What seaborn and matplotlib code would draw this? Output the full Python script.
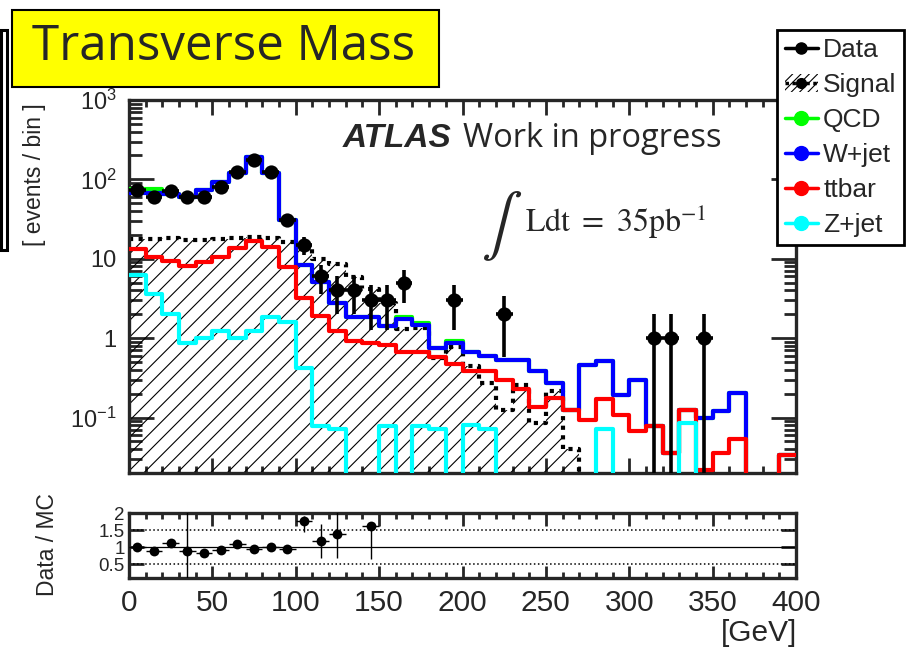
import numpy as np
import pandas as pd
import matplotlib
matplotlib.use("Agg")
import matplotlib.pyplot as plt
import seaborn as sns
from matplotlib.patches import Rectangle, Patch
from matplotlib.lines import Line2D
from matplotlib.ticker import MultipleLocator, FixedLocator, FuncFormatter, LogLocator, NullFormatter

# ---------------- data ----------------
bin_edges = list(range(0, 410, 10))          # GeV, 10 GeV bins
data_counts = [73, 60, 71, 60, 60, 81, 123, 175, 125, 31,
               15, 6, 4, 4, 3, 3, 5, 0, 0, 3,
               0, 0, 2, 0, 0, 0, 0, 0, 0, 0,
               0, 1, 1, 0, 1, 0, 0, 0, 0, 0]
signal = [17.9, 17.9, 18.5, 17.0, 17.3, 17.6, 18.5, 18.8, 18.5, 16.4,
          14.8, 9.8, 8.5, 5.9, 4.2, 2.8, 1.3, 1.36, 0.57, 0.78,
          0.45, 0.275, 0.126, 0.26, 0.086, 0.215, 0.04, 0, 0, 0,
          0, 0, 0, 0, 0, 0, 0, 0, 0, 0]
qcd_stack = [75, 75, 66, 60, 73, 94, 119, 194, 119, 31,
             8.4, 5.1, 2.8, 1.83, 1.83, 1.41, 1.82, 1.55, 0.75, 0.93,
             0.66, 0.60, 0.53, 0.53, 0.385, 0.27, 0.123, 0.46, 0.52, 0.19,
             0.30, 0.078, 0.036, 0.126, 0.099, 0.12, 0.206, 0, 0, 0.034]
wjet_stack = [68, 68, 66, 60, 73, 94, 119, 194, 119, 31,
              8.4, 5.1, 2.8, 1.83, 1.83, 1.41, 1.76, 1.48, 0.75, 0.88,
              0.66, 0.60, 0.53, 0.53, 0.385, 0.27, 0.123, 0.46, 0.52, 0.19,
              0.30, 0.078, 0.036, 0.126, 0.099, 0.12, 0.206, 0, 0, 0.034]
ttbar_stack = [13.4, 10.6, 9.5, 8.1, 9.1, 10.5, 13.5, 16.7, 14.0, 7.8,
               3.2, 1.9, 1.24, 0.92, 0.88, 0.82, 0.66, 0.66, 0.58, 0.47,
               0.39, 0.385, 0.30, 0.226, 0.135, 0.177, 0.123, 0.094, 0.169, 0.109,
               0.067, 0.078, 0.036, 0.126, 0.022, 0.036, 0.054, 0, 0, 0.034]
zjet = [6.2, 3.6, 2.0, 0.88, 1.0, 1.24, 1.0, 1.24, 1.83, 1.58,
        0.42, 0.078, 0.072, 0, 0, 0.078, 0, 0.079, 0.072, 0,
        0.08, 0.072, 0, 0, 0, 0, 0, 0, 0.072, 0,
        0, 0, 0, 0.086, 0, 0, 0, 0, 0, 0]

ratio_centers = [5, 15, 25, 35, 45, 55, 65, 75, 85, 95, 105, 115, 125, 145]
ratio_values = [1.02, 0.875, 1.115, 0.90, 0.83, 0.92, 1.09, 0.95, 1.0, 0.95,
                1.76, 1.18, 1.375, 1.625]
ratio_err_lo = [0.03, 0.03, 0.04, 1.2, 0.03, 0.03, 0.03, 0.03, 0.03, 0.07,
                0.32, 0.5, 0.7, 0.97]
ratio_err_hi = [0.03, 0.03, 0.04, 1.2, 0.03, 0.03, 0.03, 0.03, 0.03, 0.07,
                0.15, 0.5, 0.7, 0.05]

legend_labels = ["Data", "Signal", "QCD", "W+jet", "ttbar", "Z+jet"]
series_colors = {"QCD": "#00ff00", "W+jet": "#0000ff", "ttbar": "#ff0000", "Z+jet": "#00ffff"}
x_ticks = [0, 50, 100, 150, 200, 250, 300, 350, 400]
ratio_ticks = [0.5, 1, 1.5, 2]
ratio_tick_labels = ["0.5", "1", "1.5", "2"]

# ---------------- style ----------------
sns.set_theme(style="ticks")
plt.rcParams["font.family"] = ["Liberation Sans", "DejaVu Sans"]
plt.rcParams["mathtext.fontset"] = "custom"
plt.rcParams["mathtext.rm"] = "Liberation Sans"
plt.rcParams["mathtext.it"] = "Liberation Sans:italic"
plt.rcParams["mathtext.bf"] = "Liberation Sans:bold"
plt.rcParams["hatch.linewidth"] = 0.8

W, H = 919, 649
fig = plt.figure(figsize=(W / 100, H / 100), dpi=100)
fig.patch.set_facecolor("white")

def fx(px):
    return px / W

def fy(py):
    return 1 - py / H

ax1 = fig.add_axes([fx(129), fy(473), (796 - 129) / W, (473 - 100) / H])
ax2 = fig.add_axes([fx(129), fy(578), (796 - 129) / W, (578 - 513) / H])

centers = [(a + b) / 2 for a, b in zip(bin_edges[:-1], bin_edges[1:])]

ax1.set_yscale("log")

# signal: hatched area + dotted outline
sns.histplot(x=centers, weights=signal, bins=bin_edges, element="step", fill=True,
             color="black", facecolor="none", edgecolor="black", hatch="//", linewidth=0,
             ax=ax1, zorder=1)
sns.histplot(x=centers, weights=signal, bins=bin_edges, element="step", fill=False,
             color="black", linestyle=(0, (1, 1.3)), linewidth=3, ax=ax1, zorder=2)

# background step histograms
for vals, name in [(qcd_stack, "QCD"), (wjet_stack, "W+jet"),
                   (ttbar_stack, "ttbar"), (zjet, "Z+jet")]:
    sns.histplot(x=centers, weights=vals, bins=bin_edges, element="step", fill=False,
                 color=series_colors[name], linewidth=3, ax=ax1, zorder=3)

# data points
cx = np.array(centers)
dc = np.array(data_counts, dtype=float)
mask = dc > 0
ax1.errorbar(cx[mask], dc[mask], yerr=np.sqrt(dc[mask]), xerr=5,
             fmt="none", ecolor="black", elinewidth=2.6, capsize=0, zorder=5)
sns.scatterplot(x=cx[mask], y=dc[mask], color="black", s=105,
                edgecolor="black", linewidth=0, ax=ax1, zorder=6)

ax1.set_xlim(0, 400)
ax1.set_ylim(0.02, 1000)
ax1.set_xlabel("")
ax1.set_ylabel("")

def log_fmt(v, pos):
    e = int(round(np.log10(v)))
    if e == 0:
        return "1"
    if e == 1:
        return "10"
    return r"$10^{%d}$" % e

ax1.yaxis.set_major_locator(LogLocator(base=10, numticks=10))
ax1.yaxis.set_minor_locator(LogLocator(base=10, subs=np.arange(2, 10), numticks=20))
ax1.yaxis.set_major_formatter(FuncFormatter(log_fmt))
ax1.yaxis.set_minor_formatter(NullFormatter())
ax1.xaxis.set_major_locator(FixedLocator(x_ticks))
ax1.xaxis.set_minor_locator(MultipleLocator(10))
ax1.tick_params(axis="x", which="both", direction="in", top=True, bottom=True,
                labelbottom=False, width=2)
ax1.tick_params(axis="x", which="major", length=11)
ax1.tick_params(axis="x", which="minor", length=5)
ax1.tick_params(axis="y", which="both", direction="in", left=True, right=True, width=2,
                labelsize=17, pad=9)
ax1.tick_params(axis="y", which="major", length=18)
ax1.tick_params(axis="y", which="minor", length=9)
for s in ax1.spines.values():
    s.set_linewidth(2.4)
    s.set_visible(True)

# ratio panel
ax2.axhline(0.5, color="black", linestyle=":", linewidth=1.1, zorder=1)
ax2.axhline(1.5, color="black", linestyle=":", linewidth=1.1, zorder=1)
ax2.axhline(1.0, color="black", linestyle="-", linewidth=0.9, zorder=1)
rc = np.array(ratio_centers, dtype=float)
rv = np.array(ratio_values)
ax2.errorbar(rc, rv, yerr=[ratio_err_lo, ratio_err_hi], xerr=5, fmt="none",
             ecolor="black", elinewidth=1.0, capsize=0, zorder=3)
sns.scatterplot(x=rc, y=rv, color="black", s=50, linewidth=0, ax=ax2, zorder=4)
ax2.set_xlim(0, 400)
ax2.set_ylim(0.1, 2.0)
ax2.set_xlabel("")
ax2.set_ylabel("")
ax2.xaxis.set_major_locator(FixedLocator(x_ticks))
ax2.xaxis.set_minor_locator(MultipleLocator(10))
ax2.set_yticks(ratio_ticks)
ax2.set_yticklabels(ratio_tick_labels)
ax2.tick_params(axis="x", which="both", direction="in", top=True, bottom=True, width=2,
                labelsize=21.5, pad=8)
ax2.tick_params(axis="x", which="major", length=9)
ax2.tick_params(axis="x", which="minor", length=4)
ax2.tick_params(axis="y", which="both", direction="in", left=True, right=True, width=2,
                length=11, labelsize=13.5, pad=3)
for s in ax2.spines.values():
    s.set_linewidth(2.4)
    s.set_visible(True)

# axis titles
fig.text(fx(34), fy(175), "[ events / bin ]", rotation=90, ha="center", va="center",
         fontsize=16.5)
fig.text(fx(47), fy(545), "Data / MC", rotation=90, ha="center", va="center",
         fontsize=16.5)
fig.text(fx(797), fy(619), "[GeV]", ha="right", va="top", fontsize=21.5)

# ATLAS label + luminosity
fig.text(fx(343), fy(147), "ATLAS", fontsize=24, fontweight="bold", fontstyle="italic",
         ha="left", va="baseline")
fig.text(fx(463), fy(147), "Work in progress", fontsize=23.5, family="Open Sans",
         ha="left", va="baseline")
fig.text(fx(502), fy(226), r"$\int$", fontsize=44, math_fontfamily="stix",
         ha="center", va="center")
fig.text(fx(525), fy(232), r"$\mathrm{Ldt}\ =\ 35\mathrm{pb}^{-1}$", fontsize=23,
         math_fontfamily="stix", ha="left", va="baseline")

# title box
fig.patches.append(Rectangle((fx(12), fy(87)), fx(439) - fx(12), fy(10) - fy(87),
                             transform=fig.transFigure, facecolor="#ffff00",
                             edgecolor="black", linewidth=1.5, zorder=0))
fig.text(fx(32), fy(60), "Transverse Mass", fontsize=35.5, family="Open Sans",
         ha="left", va="baseline", zorder=2)

# partial frame at left edge
fig.patches.append(Rectangle((fx(1), fy(250)), fx(7) - fx(1), fy(30) - fy(250),
                             transform=fig.transFigure, facecolor="white",
                             edgecolor="black", linewidth=2.2, zorder=0))

# legend
handles = [
    Line2D([], [], color="black", lw=2.5, marker="o", ms=8),
    (Patch(facecolor="white", edgecolor="black", hatch="////", lw=0),
     Line2D([], [], color="black", lw=2.5, ls=(0, (1, 1)), marker="o", ms=7)),
    Line2D([], [], color=series_colors["QCD"], lw=2.5, marker="o", ms=10),
    Line2D([], [], color=series_colors["W+jet"], lw=2.5, marker="o", ms=10),
    Line2D([], [], color=series_colors["ttbar"], lw=2.5, marker="o", ms=10),
    Line2D([], [], color=series_colors["Z+jet"], lw=2.5, marker="o", ms=10),
]
leg = fig.legend(handles, legend_labels, loc="upper left",
                 bbox_to_anchor=(fx(777), fy(30)), frameon=True, fancybox=False,
                 framealpha=1, edgecolor="black", fontsize=19, handlelength=1.25,
                 handletextpad=0.2, labelspacing=0.42, borderpad=0.3,
                 borderaxespad=0)
leg.get_frame().set_linewidth(2)

fig.savefig("out.png", dpi=100, facecolor="white")
